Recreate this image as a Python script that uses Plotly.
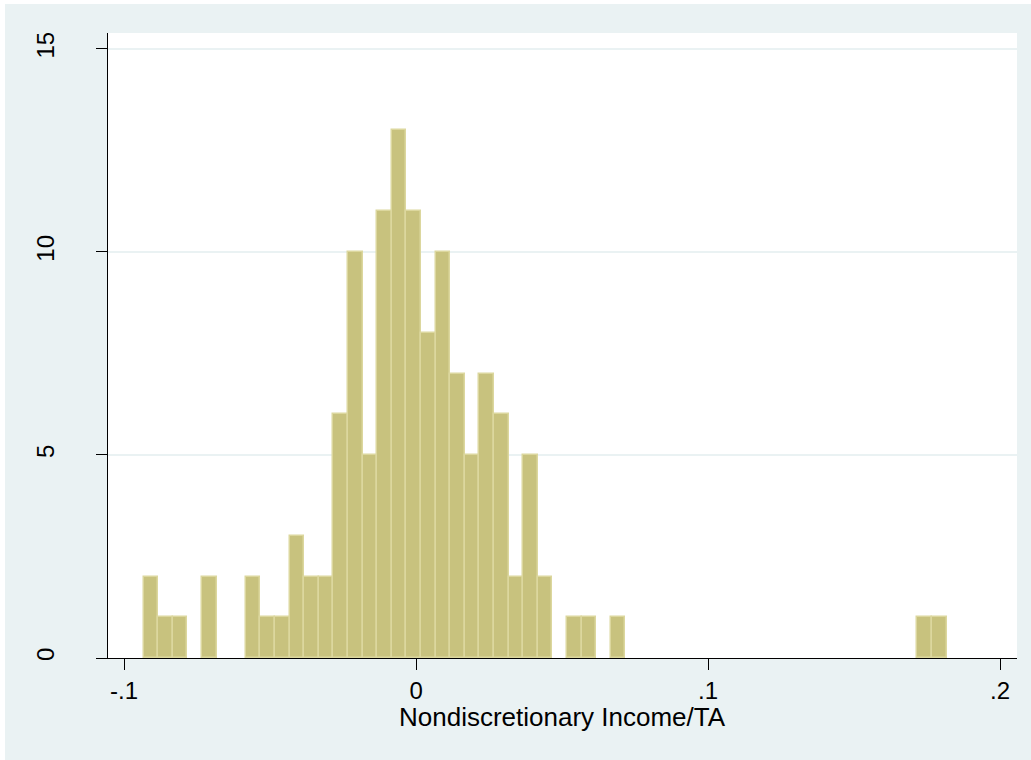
import plotly.graph_objects as go

# ---- data ----
bin_start = -0.0933
bin_width = 0.005
counts = [2, 1, 1, 0, 2, 0, 0, 2, 1, 1,
          3, 2, 2, 6, 10, 5, 11, 13, 11, 8,
          10, 7, 5, 7, 6, 2, 5, 2, 0, 1,
          1, 0, 1, 0, 0, 0, 0, 0, 0, 0,
          0, 0, 0, 0, 0, 0, 0, 0, 0, 0,
          0, 0, 0, 1, 1]
x_tickvals = [-0.1, 0, 0.1, 0.2]
x_ticktext = ["-.1", "0", ".1", ".2"]
y_tickvals = [0, 5, 10, 15]
y_ticktext = ["0", "5", "10", "15"]
x_title = "Nondiscretionary Income/TA"

centers = [bin_start + bin_width * (i + 0.5) for i in range(len(counts))]
xs = [c for c, n in zip(centers, counts) if n > 0]
ys = [n for n in counts if n > 0]

BG = "#eaf2f3"
FONT = "Liberation Sans, Arial, sans-serif"
FS = 24
FS_TITLE = 26

fig = go.Figure()
fig.add_trace(go.Bar(
    x=xs, y=ys, width=bin_width,
    marker=dict(color="#c8c27e", line=dict(color="#dcd79e", width=1.5)),
    hoverinfo="x+y",
))

W, H = 1031, 760
L, R, T, B = 108, 14, 33, 102
PW, PH = W - L - R, H - T - B
BX, BY = 5, 4  # white page border of the reference (left, top)
TITLE_Y = 717  # pixel centre of the x-axis title

fig.update_layout(
    width=W, height=H, autosize=False,
    margin=dict(l=L, r=R, t=T, b=B, pad=0),
    paper_bgcolor=BG, plot_bgcolor="white",
    showlegend=False, bargap=0,
    font=dict(family=FONT, size=FS, color="black"),
    xaxis=dict(
        range=[-0.1055, 0.2058],
        tickmode="array", tickvals=x_tickvals, ticktext=x_ticktext,
        ticks="outside", ticklen=11, tickwidth=1.3, tickcolor="black",
        showline=True, linecolor="black", linewidth=1.3,
        showgrid=False, zeroline=False,
        ticklabelstandoff=0,
        tickfont=dict(size=FS, family=FONT, color="black"),
    ),
    yaxis=dict(
        range=[0, 15.39],
        tickmode="array", tickvals=y_tickvals, ticktext=y_ticktext,
        ticks="outside", ticklen=11, tickwidth=1.3, tickcolor="black",
        showline=True, linecolor="black", linewidth=1.3,
        showgrid=True, gridcolor=BG, gridwidth=2,
        zeroline=False, tickangle=-90,
        ticklabelstandoff=32,
        tickfont=dict(size=FS, family=FONT, color="black"),
    ),
    annotations=[
        dict(text=x_title, xref="paper", yref="paper", x=0.5,
             y=(H - B - TITLE_Y) / PH, xanchor="center", yanchor="middle",
             showarrow=False, font=dict(size=FS_TITLE, family=FONT, color="black")),
    ],
    shapes=[
        dict(type="rect", xref="paper", yref="paper",
             x0=-L / PW, x1=(BX - L) / PW, y0=-B / PH, y1=(H - B) / PH,
             fillcolor="white", line=dict(width=0), layer="above"),
        dict(type="rect", xref="paper", yref="paper",
             x0=-L / PW, x1=(W - L) / PW, y0=(H - B - BY) / PH, y1=(H - B) / PH,
             fillcolor="white", line=dict(width=0), layer="above"),
    ],
)

fig.write_html(
    "out.html",
    config={"displayModeBar": False},
    post_script=(
        "document.documentElement.style.overflow='hidden';"
        "document.documentElement.style.background='%s';"
        "document.body.style.overflow='hidden';"
        "document.body.style.background='%s';"
        "document.body.style.margin='0';" % (BG, BG)
    ),
)
